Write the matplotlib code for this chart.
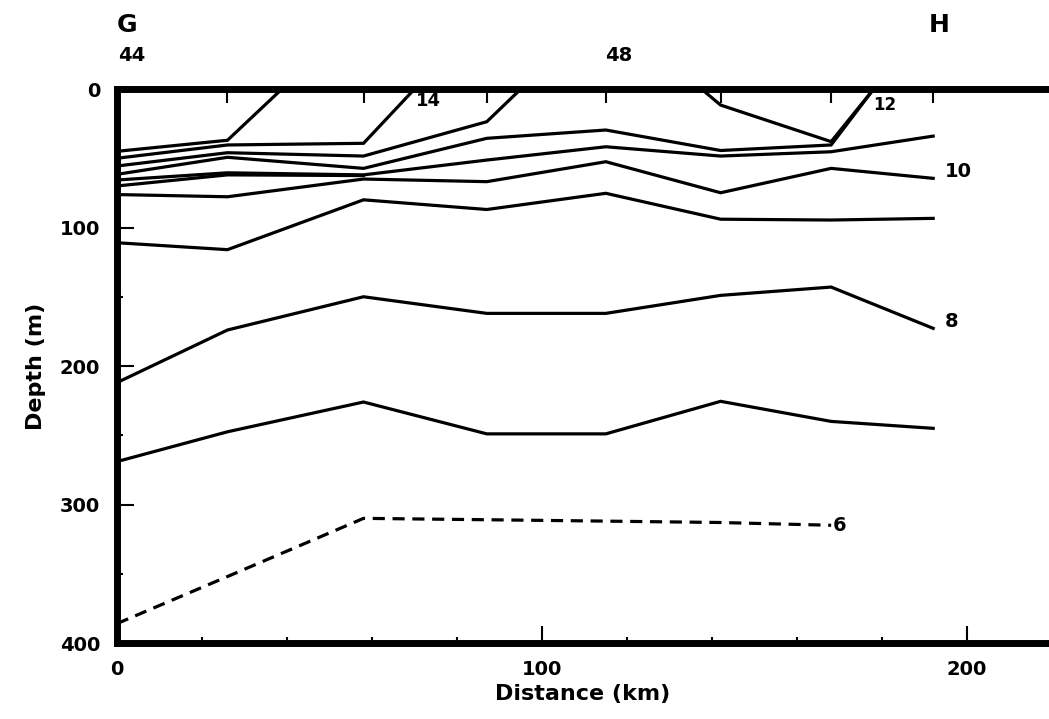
import matplotlib
matplotlib.use('Agg')
import matplotlib.pyplot as plt
import numpy as np

plt.rcParams['font.family'] = ['DejaVu Sans']
plt.rcParams['font.weight'] = 'bold'

# station positions along the section (km) and the two numbered ones
stations = [0, 26, 58, 87, 115, 142, 168, 192]
station_labels = {3.5: '44', 118: '48'}

iso_a_x = [0, 26, 38.8]
iso_a_z = [45, 37, 0]
iso_b_x = [0, 26, 58, 70]
iso_b_z = [50, 40.4, 39.2, 0]
iso_c_x = [0, 26, 58, 87, 95]
iso_c_z = [55.6, 46, 48.4, 23.6, 0]
iso_d_x = [0, 26, 58, 87, 115, 142, 168, 178]
iso_d_z = [61.6, 49.3, 57.3, 35.6, 29.6, 44.4, 40.4, 0]
iso_e_x = [0, 26, 58, 87, 115, 142, 168, 192]
iso_e_z = [65.7, 60.5, 62, 51.3, 41.7, 48.4, 45.3, 34]
iso_e2_x = [0, 26, 58]
iso_e2_z = [70, 62, 62.5]
iso_f_x = [0, 26, 58, 87, 115, 142, 168, 192]
iso_f_z = [76.2, 77.8, 65, 66.9, 52.5, 74.9, 57.3, 64.5]
iso_k_x = [137.5, 142, 168, 178]
iso_k_z = [0, 11.6, 38, 0]
iso_9_x = [0, 26, 58, 87, 115, 142, 168, 192]
iso_9_z = [111, 116, 80, 87, 75.3, 94, 94.6, 93.4]
iso_8_x = [0, 26, 58, 87, 115, 142, 168, 192]
iso_8_z = [212, 174, 150, 162, 162, 149, 143, 172.8]
iso_7_x = [0, 26, 58, 87, 115, 142, 168, 192]
iso_7_z = [269, 247.5, 226, 249, 249, 225.5, 240, 245]
iso_6_x = [0, 26, 58, 87, 115, 142, 168]
iso_6_z = [386, 352, 310, 311, 312, 313, 315]

solid_lines = [(iso_a_x, iso_a_z), (iso_b_x, iso_b_z), (iso_c_x, iso_c_z),
               (iso_d_x, iso_d_z), (iso_e_x, iso_e_z), (iso_e2_x, iso_e2_z),
               (iso_f_x, iso_f_z), (iso_k_x, iso_k_z), (iso_9_x, iso_9_z),
               (iso_8_x, iso_8_z), (iso_7_x, iso_7_z)]

# contour labels: text, x, depth, size
contour_labels = [('14', 73.3, 9, 13), ('12', 180.7, 11.6, 12), ('10', 198, 59.7, 14),
                  ('8', 196.4, 168, 14), ('6', 170, 314.8, 14)]

fig = plt.figure(figsize=(10.49, 7.19), dpi=100)
ax = fig.add_axes([0.1115, 0.1057, 0.8875, 0.7705])

for xs, zs in solid_lines:
    ax.plot(xs, zs, color='black', lw=2.3, solid_joinstyle='miter', clip_on=False)
ax.plot(iso_6_x, iso_6_z, color='black', lw=2.3, dashes=(3.8, 2.4), clip_on=False)

for txt, x, z, fs in contour_labels:
    ax.text(x, z, txt, fontsize=fs, fontweight='bold', ha='center', va='center')

ax.set_xlim(0, 219)
ax.set_ylim(400, 0)

ax.spines['right'].set_visible(False)
for s in ['left', 'top', 'bottom']:
    ax.spines[s].set_linewidth(5)

ax.set_xticks([0, 100, 200])
ax.set_xticks(np.arange(0, 220, 20), minor=True)
ax.set_yticks([0, 100, 200, 300, 400])
ax.set_yticks(np.arange(0, 401, 50), minor=True)
ax.tick_params(which='major', direction='in', length=12, width=1.5, labelsize=14, pad=12)
ax.tick_params(which='minor', direction='in', length=4, width=1.5)
ax.tick_params(axis='x', top=False)

top = ax.secondary_xaxis('top')
top.set_xticks(stations)
top.tick_params(direction='in', length=10, width=1.5, labeltop=False)
top.spines['top'].set_visible(False)

for x, lab in station_labels.items():
    ax.text(x, -24.5, lab, fontsize=14, fontweight='bold', ha='center', va='center')
ax.text(2.3, -46, 'G', fontsize=18, fontweight='bold', ha='center', va='center')
ax.text(193.5, -46, 'H', fontsize=18, fontweight='bold', ha='center', va='center')

ax.set_xlabel('Distance (km)', fontsize=16, fontweight='bold', labelpad=4)
ax.set_ylabel('Depth (m)', fontsize=16, fontweight='bold', labelpad=10)

fig.savefig('out.png', dpi=100)
